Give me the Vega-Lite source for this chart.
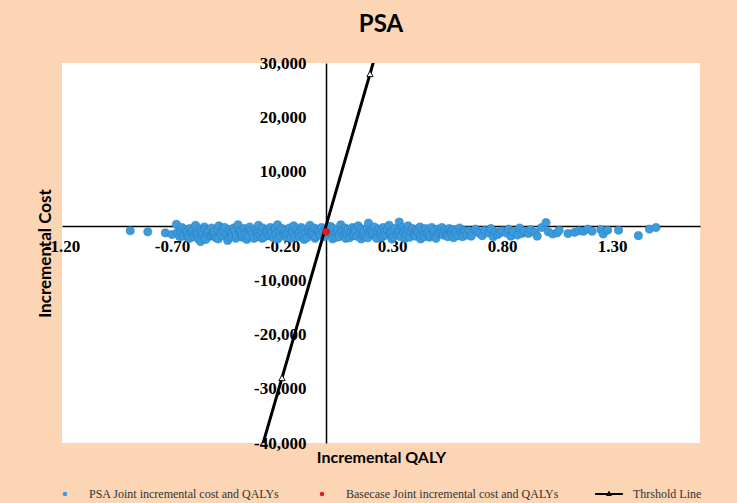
{
  "$schema": "https://vega.github.io/schema/vega-lite/v6.json",
  "autosize": {"type": "none"},
  "width": 638,
  "height": 380,
  "padding": {"left": 62, "top": 63, "right": 37, "bottom": 60},
  "background": "#FCD5B4",
  "config": {
    "view": {"fill": "white", "stroke": null},
    "axis": {"grid": false}
  },
  "title": {
    "text": "PSA",
    "anchor": "middle",
    "frame": "group",
    "font": "Lato",
    "fontSize": 24,
    "fontWeight": "bold",
    "color": "black",
    "baseline": "alphabetic",
    "offset": -2
  },
  "datasets": {
    "psa": [
      {"x":-0.89,"y":-900,"s":"PSA Joint incremental cost and QALYs"},
      {"x":-0.81,"y":-1100,"s":"PSA Joint incremental cost and QALYs"},
      {"x":-0.73,"y":-1300,"s":"PSA Joint incremental cost and QALYs"},
      {"x":-0.70,"y":-1600,"s":"PSA Joint incremental cost and QALYs"},
      {"x":-0.68,"y":300,"s":"PSA Joint incremental cost and QALYs"},
      {"x":-0.675,"y":-1200,"s":"PSA Joint incremental cost and QALYs"},
      {"x":-0.665,"y":-2000,"s":"PSA Joint incremental cost and QALYs"},
      {"x":-0.66,"y":-1100,"s":"PSA Joint incremental cost and QALYs"},
      {"x":-0.655,"y":-300,"s":"PSA Joint incremental cost and QALYs"},
      {"x":-0.648,"y":-1900,"s":"PSA Joint incremental cost and QALYs"},
      {"x":-0.64,"y":-700,"s":"PSA Joint incremental cost and QALYs"},
      {"x":-0.633,"y":-1400,"s":"PSA Joint incremental cost and QALYs"},
      {"x":-0.63,"y":-1000,"s":"PSA Joint incremental cost and QALYs"},
      {"x":-0.627,"y":-2100,"s":"PSA Joint incremental cost and QALYs"},
      {"x":-0.62,"y":-500,"s":"PSA Joint incremental cost and QALYs"},
      {"x":-0.62,"y":-2300,"s":"PSA Joint incremental cost and QALYs"},
      {"x":-0.612,"y":-1200,"s":"PSA Joint incremental cost and QALYs"},
      {"x":-0.606,"y":-900,"s":"PSA Joint incremental cost and QALYs"},
      {"x":-0.6,"y":-1700,"s":"PSA Joint incremental cost and QALYs"},
      {"x":-0.6,"y":-2000,"s":"PSA Joint incremental cost and QALYs"},
      {"x":-0.593,"y":100,"s":"PSA Joint incremental cost and QALYs"},
      {"x":-0.59,"y":-1500,"s":"PSA Joint incremental cost and QALYs"},
      {"x":-0.586,"y":-1300,"s":"PSA Joint incremental cost and QALYs"},
      {"x":-0.58,"y":-2400,"s":"PSA Joint incremental cost and QALYs"},
      {"x":-0.573,"y":-600,"s":"PSA Joint incremental cost and QALYs"},
      {"x":-0.57,"y":-2900,"s":"PSA Joint incremental cost and QALYs"},
      {"x":-0.566,"y":-1000,"s":"PSA Joint incremental cost and QALYs"},
      {"x":-0.56,"y":-1600,"s":"PSA Joint incremental cost and QALYs"},
      {"x":-0.553,"y":-200,"s":"PSA Joint incremental cost and QALYs"},
      {"x":-0.55,"y":-700,"s":"PSA Joint incremental cost and QALYs"},
      {"x":-0.55,"y":-2200,"s":"PSA Joint incremental cost and QALYs"},
      {"x":-0.547,"y":-2500,"s":"PSA Joint incremental cost and QALYs"},
      {"x":-0.54,"y":-1200,"s":"PSA Joint incremental cost and QALYs"},
      {"x":-0.533,"y":-800,"s":"PSA Joint incremental cost and QALYs"},
      {"x":-0.527,"y":-1900,"s":"PSA Joint incremental cost and QALYs"},
      {"x":-0.52,"y":-400,"s":"PSA Joint incremental cost and QALYs"},
      {"x":-0.52,"y":-1800,"s":"PSA Joint incremental cost and QALYs"},
      {"x":-0.513,"y":-1500,"s":"PSA Joint incremental cost and QALYs"},
      {"x":-0.51,"y":-1300,"s":"PSA Joint incremental cost and QALYs"},
      {"x":-0.507,"y":-1000,"s":"PSA Joint incremental cost and QALYs"},
      {"x":-0.5,"y":-2200,"s":"PSA Joint incremental cost and QALYs"},
      {"x":-0.493,"y":-600,"s":"PSA Joint incremental cost and QALYs"},
      {"x":-0.49,"y":-2400,"s":"PSA Joint incremental cost and QALYs"},
      {"x":-0.487,"y":0,"s":"PSA Joint incremental cost and QALYs"},
      {"x":-0.48,"y":-1300,"s":"PSA Joint incremental cost and QALYs"},
      {"x":-0.473,"y":-1800,"s":"PSA Joint incremental cost and QALYs"},
      {"x":-0.47,"y":-500,"s":"PSA Joint incremental cost and QALYs"},
      {"x":-0.467,"y":-900,"s":"PSA Joint incremental cost and QALYs"},
      {"x":-0.46,"y":-300,"s":"PSA Joint incremental cost and QALYs"},
      {"x":-0.453,"y":-1500,"s":"PSA Joint incremental cost and QALYs"},
      {"x":-0.447,"y":-2700,"s":"PSA Joint incremental cost and QALYs"},
      {"x":-0.44,"y":-700,"s":"PSA Joint incremental cost and QALYs"},
      {"x":-0.44,"y":-2100,"s":"PSA Joint incremental cost and QALYs"},
      {"x":-0.433,"y":-1200,"s":"PSA Joint incremental cost and QALYs"},
      {"x":-0.43,"y":-1600,"s":"PSA Joint incremental cost and QALYs"},
      {"x":-0.427,"y":-2000,"s":"PSA Joint incremental cost and QALYs"},
      {"x":-0.42,"y":-400,"s":"PSA Joint incremental cost and QALYs"},
      {"x":-0.413,"y":-1000,"s":"PSA Joint incremental cost and QALYs"},
      {"x":-0.41,"y":-2300,"s":"PSA Joint incremental cost and QALYs"},
      {"x":-0.407,"y":-1700,"s":"PSA Joint incremental cost and QALYs"},
      {"x":-0.4,"y":200,"s":"PSA Joint incremental cost and QALYs"},
      {"x":-0.393,"y":-1300,"s":"PSA Joint incremental cost and QALYs"},
      {"x":-0.39,"y":-1000,"s":"PSA Joint incremental cost and QALYs"},
      {"x":-0.387,"y":-800,"s":"PSA Joint incremental cost and QALYs"},
      {"x":-0.38,"y":-2100,"s":"PSA Joint incremental cost and QALYs"},
      {"x":-0.38,"y":-1700,"s":"PSA Joint incremental cost and QALYs"},
      {"x":-0.373,"y":-500,"s":"PSA Joint incremental cost and QALYs"},
      {"x":-0.367,"y":-1500,"s":"PSA Joint incremental cost and QALYs"},
      {"x":-0.36,"y":-1100,"s":"PSA Joint incremental cost and QALYs"},
      {"x":-0.36,"y":-2500,"s":"PSA Joint incremental cost and QALYs"},
      {"x":-0.353,"y":-1900,"s":"PSA Joint incremental cost and QALYs"},
      {"x":-0.35,"y":-600,"s":"PSA Joint incremental cost and QALYs"},
      {"x":-0.347,"y":-200,"s":"PSA Joint incremental cost and QALYs"},
      {"x":-0.34,"y":-900,"s":"PSA Joint incremental cost and QALYs"},
      {"x":-0.333,"y":-1400,"s":"PSA Joint incremental cost and QALYs"},
      {"x":-0.327,"y":-2300,"s":"PSA Joint incremental cost and QALYs"},
      {"x":-0.32,"y":-600,"s":"PSA Joint incremental cost and QALYs"},
      {"x":-0.313,"y":-1200,"s":"PSA Joint incremental cost and QALYs"},
      {"x":-0.31,"y":-1500,"s":"PSA Joint incremental cost and QALYs"},
      {"x":-0.31,"y":-2000,"s":"PSA Joint incremental cost and QALYs"},
      {"x":-0.307,"y":100,"s":"PSA Joint incremental cost and QALYs"},
      {"x":-0.3,"y":-1700,"s":"PSA Joint incremental cost and QALYs"},
      {"x":-0.293,"y":-1000,"s":"PSA Joint incremental cost and QALYs"},
      {"x":-0.29,"y":-2300,"s":"PSA Joint incremental cost and QALYs"},
      {"x":-0.287,"y":-400,"s":"PSA Joint incremental cost and QALYs"},
      {"x":-0.28,"y":-2000,"s":"PSA Joint incremental cost and QALYs"},
      {"x":-0.273,"y":-800,"s":"PSA Joint incremental cost and QALYs"},
      {"x":-0.27,"y":-1100,"s":"PSA Joint incremental cost and QALYs"},
      {"x":-0.267,"y":-1300,"s":"PSA Joint incremental cost and QALYs"},
      {"x":-0.26,"y":-1800,"s":"PSA Joint incremental cost and QALYs"},
      {"x":-0.253,"y":-300,"s":"PSA Joint incremental cost and QALYs"},
      {"x":-0.25,"y":-1800,"s":"PSA Joint incremental cost and QALYs"},
      {"x":-0.247,"y":-1100,"s":"PSA Joint incremental cost and QALYs"},
      {"x":-0.24,"y":-2200,"s":"PSA Joint incremental cost and QALYs"},
      {"x":-0.233,"y":-700,"s":"PSA Joint incremental cost and QALYs"},
      {"x":-0.23,"y":-500,"s":"PSA Joint incremental cost and QALYs"},
      {"x":-0.227,"y":-1500,"s":"PSA Joint incremental cost and QALYs"},
      {"x":-0.22,"y":200,"s":"PSA Joint incremental cost and QALYs"},
      {"x":-0.22,"y":-2400,"s":"PSA Joint incremental cost and QALYs"},
      {"x":-0.213,"y":-1000,"s":"PSA Joint incremental cost and QALYs"},
      {"x":-0.207,"y":-1900,"s":"PSA Joint incremental cost and QALYs"},
      {"x":-0.2,"y":-500,"s":"PSA Joint incremental cost and QALYs"},
      {"x":-0.193,"y":-1300,"s":"PSA Joint incremental cost and QALYs"},
      {"x":-0.19,"y":-1600,"s":"PSA Joint incremental cost and QALYs"},
      {"x":-0.187,"y":-800,"s":"PSA Joint incremental cost and QALYs"},
      {"x":-0.18,"y":-2100,"s":"PSA Joint incremental cost and QALYs"},
      {"x":-0.18,"y":-1500,"s":"PSA Joint incremental cost and QALYs"},
      {"x":-0.173,"y":-1200,"s":"PSA Joint incremental cost and QALYs"},
      {"x":-0.167,"y":-400,"s":"PSA Joint incremental cost and QALYs"},
      {"x":-0.16,"y":-1600,"s":"PSA Joint incremental cost and QALYs"},
      {"x":-0.16,"y":-2300,"s":"PSA Joint incremental cost and QALYs"},
      {"x":-0.153,"y":-900,"s":"PSA Joint incremental cost and QALYs"},
      {"x":-0.15,"y":-1100,"s":"PSA Joint incremental cost and QALYs"},
      {"x":-0.147,"y":0,"s":"PSA Joint incremental cost and QALYs"},
      {"x":-0.14,"y":-2000,"s":"PSA Joint incremental cost and QALYs"},
      {"x":-0.133,"y":-700,"s":"PSA Joint incremental cost and QALYs"},
      {"x":-0.127,"y":-1400,"s":"PSA Joint incremental cost and QALYs"},
      {"x":-0.12,"y":-1100,"s":"PSA Joint incremental cost and QALYs"},
      {"x":-0.12,"y":-2000,"s":"PSA Joint incremental cost and QALYs"},
      {"x":-0.113,"y":-300,"s":"PSA Joint incremental cost and QALYs"},
      {"x":-0.11,"y":-800,"s":"PSA Joint incremental cost and QALYs"},
      {"x":-0.107,"y":-1800,"s":"PSA Joint incremental cost and QALYs"},
      {"x":-0.1,"y":-600,"s":"PSA Joint incremental cost and QALYs"},
      {"x":-0.1,"y":-2500,"s":"PSA Joint incremental cost and QALYs"},
      {"x":-0.093,"y":-1300,"s":"PSA Joint incremental cost and QALYs"},
      {"x":-0.087,"y":-2200,"s":"PSA Joint incremental cost and QALYs"},
      {"x":-0.08,"y":-900,"s":"PSA Joint incremental cost and QALYs"},
      {"x":-0.073,"y":100,"s":"PSA Joint incremental cost and QALYs"},
      {"x":-0.07,"y":-1200,"s":"PSA Joint incremental cost and QALYs"},
      {"x":-0.067,"y":-1500,"s":"PSA Joint incremental cost and QALYs"},
      {"x":-0.06,"y":-1000,"s":"PSA Joint incremental cost and QALYs"},
      {"x":-0.06,"y":-1700,"s":"PSA Joint incremental cost and QALYs"},
      {"x":-0.053,"y":-400,"s":"PSA Joint incremental cost and QALYs"},
      {"x":-0.05,"y":-2300,"s":"PSA Joint incremental cost and QALYs"},
      {"x":-0.047,"y":-1900,"s":"PSA Joint incremental cost and QALYs"},
      {"x":-0.04,"y":-700,"s":"PSA Joint incremental cost and QALYs"},
      {"x":-0.033,"y":-1200,"s":"PSA Joint incremental cost and QALYs"},
      {"x":-0.03,"y":-900,"s":"PSA Joint incremental cost and QALYs"},
      {"x":-0.027,"y":-1700,"s":"PSA Joint incremental cost and QALYs"},
      {"x":-0.02,"y":-300,"s":"PSA Joint incremental cost and QALYs"},
      {"x":-0.013,"y":-1100,"s":"PSA Joint incremental cost and QALYs"},
      {"x":-0.007,"y":-2000,"s":"PSA Joint incremental cost and QALYs"},
      {"x":0.0,"y":-600,"s":"PSA Joint incremental cost and QALYs"},
      {"x":0.007,"y":-1400,"s":"PSA Joint incremental cost and QALYs"},
      {"x":0.013,"y":-900,"s":"PSA Joint incremental cost and QALYs"},
      {"x":0.02,"y":-100,"s":"PSA Joint incremental cost and QALYs"},
      {"x":0.027,"y":-1700,"s":"PSA Joint incremental cost and QALYs"},
      {"x":0.03,"y":-2400,"s":"PSA Joint incremental cost and QALYs"},
      {"x":0.033,"y":-500,"s":"PSA Joint incremental cost and QALYs"},
      {"x":0.04,"y":-1200,"s":"PSA Joint incremental cost and QALYs"},
      {"x":0.047,"y":-2100,"s":"PSA Joint incremental cost and QALYs"},
      {"x":0.05,"y":-1100,"s":"PSA Joint incremental cost and QALYs"},
      {"x":0.053,"y":-800,"s":"PSA Joint incremental cost and QALYs"},
      {"x":0.06,"y":-1500,"s":"PSA Joint incremental cost and QALYs"},
      {"x":0.06,"y":-2000,"s":"PSA Joint incremental cost and QALYs"},
      {"x":0.067,"y":200,"s":"PSA Joint incremental cost and QALYs"},
      {"x":0.073,"y":-1000,"s":"PSA Joint incremental cost and QALYs"},
      {"x":0.08,"y":-1800,"s":"PSA Joint incremental cost and QALYs"},
      {"x":0.087,"y":-400,"s":"PSA Joint incremental cost and QALYs"},
      {"x":0.09,"y":-1600,"s":"PSA Joint incremental cost and QALYs"},
      {"x":0.09,"y":-2300,"s":"PSA Joint incremental cost and QALYs"},
      {"x":0.093,"y":-1300,"s":"PSA Joint incremental cost and QALYs"},
      {"x":0.1,"y":-700,"s":"PSA Joint incremental cost and QALYs"},
      {"x":0.107,"y":-2200,"s":"PSA Joint incremental cost and QALYs"},
      {"x":0.113,"y":-1100,"s":"PSA Joint incremental cost and QALYs"},
      {"x":0.12,"y":-300,"s":"PSA Joint incremental cost and QALYs"},
      {"x":0.12,"y":-1800,"s":"PSA Joint incremental cost and QALYs"},
      {"x":0.127,"y":-1600,"s":"PSA Joint incremental cost and QALYs"},
      {"x":0.13,"y":-500,"s":"PSA Joint incremental cost and QALYs"},
      {"x":0.133,"y":-900,"s":"PSA Joint incremental cost and QALYs"},
      {"x":0.14,"y":-1900,"s":"PSA Joint incremental cost and QALYs"},
      {"x":0.147,"y":0,"s":"PSA Joint incremental cost and QALYs"},
      {"x":0.153,"y":-1300,"s":"PSA Joint incremental cost and QALYs"},
      {"x":0.16,"y":-600,"s":"PSA Joint incremental cost and QALYs"},
      {"x":0.16,"y":-2400,"s":"PSA Joint incremental cost and QALYs"},
      {"x":0.167,"y":-1700,"s":"PSA Joint incremental cost and QALYs"},
      {"x":0.17,"y":-1300,"s":"PSA Joint incremental cost and QALYs"},
      {"x":0.173,"y":-1000,"s":"PSA Joint incremental cost and QALYs"},
      {"x":0.18,"y":-2000,"s":"PSA Joint incremental cost and QALYs"},
      {"x":0.187,"y":-400,"s":"PSA Joint incremental cost and QALYs"},
      {"x":0.19,"y":-2200,"s":"PSA Joint incremental cost and QALYs"},
      {"x":0.193,"y":500,"s":"PSA Joint incremental cost and QALYs"},
      {"x":0.2,"y":-1200,"s":"PSA Joint incremental cost and QALYs"},
      {"x":0.207,"y":-800,"s":"PSA Joint incremental cost and QALYs"},
      {"x":0.21,"y":-1100,"s":"PSA Joint incremental cost and QALYs"},
      {"x":0.213,"y":-1500,"s":"PSA Joint incremental cost and QALYs"},
      {"x":0.22,"y":-200,"s":"PSA Joint incremental cost and QALYs"},
      {"x":0.227,"y":-1900,"s":"PSA Joint incremental cost and QALYs"},
      {"x":0.23,"y":-2300,"s":"PSA Joint incremental cost and QALYs"},
      {"x":0.233,"y":-1000,"s":"PSA Joint incremental cost and QALYs"},
      {"x":0.24,"y":-600,"s":"PSA Joint incremental cost and QALYs"},
      {"x":0.247,"y":-1400,"s":"PSA Joint incremental cost and QALYs"},
      {"x":0.25,"y":-900,"s":"PSA Joint incremental cost and QALYs"},
      {"x":0.253,"y":-2100,"s":"PSA Joint incremental cost and QALYs"},
      {"x":0.26,"y":-300,"s":"PSA Joint incremental cost and QALYs"},
      {"x":0.26,"y":-1800,"s":"PSA Joint incremental cost and QALYs"},
      {"x":0.267,"y":-1100,"s":"PSA Joint incremental cost and QALYs"},
      {"x":0.273,"y":-1700,"s":"PSA Joint incremental cost and QALYs"},
      {"x":0.28,"y":-700,"s":"PSA Joint incremental cost and QALYs"},
      {"x":0.287,"y":100,"s":"PSA Joint incremental cost and QALYs"},
      {"x":0.29,"y":-1500,"s":"PSA Joint incremental cost and QALYs"},
      {"x":0.293,"y":-1300,"s":"PSA Joint incremental cost and QALYs"},
      {"x":0.3,"y":-900,"s":"PSA Joint incremental cost and QALYs"},
      {"x":0.3,"y":-2400,"s":"PSA Joint incremental cost and QALYs"},
      {"x":0.307,"y":-2000,"s":"PSA Joint incremental cost and QALYs"},
      {"x":0.313,"y":-500,"s":"PSA Joint incremental cost and QALYs"},
      {"x":0.32,"y":-1500,"s":"PSA Joint incremental cost and QALYs"},
      {"x":0.327,"y":-1100,"s":"PSA Joint incremental cost and QALYs"},
      {"x":0.33,"y":-1300,"s":"PSA Joint incremental cost and QALYs"},
      {"x":0.333,"y":700,"s":"PSA Joint incremental cost and QALYs"},
      {"x":0.34,"y":-1800,"s":"PSA Joint incremental cost and QALYs"},
      {"x":0.34,"y":-2000,"s":"PSA Joint incremental cost and QALYs"},
      {"x":0.347,"y":-300,"s":"PSA Joint incremental cost and QALYs"},
      {"x":0.353,"y":-1200,"s":"PSA Joint incremental cost and QALYs"},
      {"x":0.36,"y":-800,"s":"PSA Joint incremental cost and QALYs"},
      {"x":0.36,"y":-2300,"s":"PSA Joint incremental cost and QALYs"},
      {"x":0.367,"y":-1600,"s":"PSA Joint incremental cost and QALYs"},
      {"x":0.37,"y":-600,"s":"PSA Joint incremental cost and QALYs"},
      {"x":0.373,"y":0,"s":"PSA Joint incremental cost and QALYs"},
      {"x":0.38,"y":-2100,"s":"PSA Joint incremental cost and QALYs"},
      {"x":0.387,"y":-1000,"s":"PSA Joint incremental cost and QALYs"},
      {"x":0.393,"y":-500,"s":"PSA Joint incremental cost and QALYs"},
      {"x":0.4,"y":-1400,"s":"PSA Joint incremental cost and QALYs"},
      {"x":0.4,"y":-1700,"s":"PSA Joint incremental cost and QALYs"},
      {"x":0.407,"y":-1900,"s":"PSA Joint incremental cost and QALYs"},
      {"x":0.41,"y":-1000,"s":"PSA Joint incremental cost and QALYs"},
      {"x":0.413,"y":-700,"s":"PSA Joint incremental cost and QALYs"},
      {"x":0.42,"y":-1200,"s":"PSA Joint incremental cost and QALYs"},
      {"x":0.427,"y":-200,"s":"PSA Joint incremental cost and QALYs"},
      {"x":0.43,"y":-2400,"s":"PSA Joint incremental cost and QALYs"},
      {"x":0.433,"y":-1600,"s":"PSA Joint incremental cost and QALYs"},
      {"x":0.44,"y":-900,"s":"PSA Joint incremental cost and QALYs"},
      {"x":0.447,"y":-2000,"s":"PSA Joint incremental cost and QALYs"},
      {"x":0.45,"y":-1200,"s":"PSA Joint incremental cost and QALYs"},
      {"x":0.453,"y":-500,"s":"PSA Joint incremental cost and QALYs"},
      {"x":0.46,"y":-1300,"s":"PSA Joint incremental cost and QALYs"},
      {"x":0.467,"y":-1000,"s":"PSA Joint incremental cost and QALYs"},
      {"x":0.47,"y":-2100,"s":"PSA Joint incremental cost and QALYs"},
      {"x":0.473,"y":-1700,"s":"PSA Joint incremental cost and QALYs"},
      {"x":0.48,"y":-300,"s":"PSA Joint incremental cost and QALYs"},
      {"x":0.487,"y":-1200,"s":"PSA Joint incremental cost and QALYs"},
      {"x":0.49,"y":-1500,"s":"PSA Joint incremental cost and QALYs"},
      {"x":0.493,"y":-800,"s":"PSA Joint incremental cost and QALYs"},
      {"x":0.5,"y":-1900,"s":"PSA Joint incremental cost and QALYs"},
      {"x":0.5,"y":-2300,"s":"PSA Joint incremental cost and QALYs"},
      {"x":0.507,"y":-600,"s":"PSA Joint incremental cost and QALYs"},
      {"x":0.513,"y":-1400,"s":"PSA Joint incremental cost and QALYs"},
      {"x":0.52,"y":-1000,"s":"PSA Joint incremental cost and QALYs"},
      {"x":0.527,"y":-300,"s":"PSA Joint incremental cost and QALYs"},
      {"x":0.53,"y":-1200,"s":"PSA Joint incremental cost and QALYs"},
      {"x":0.533,"y":-1700,"s":"PSA Joint incremental cost and QALYs"},
      {"x":0.54,"y":-800,"s":"PSA Joint incremental cost and QALYs"},
      {"x":0.547,"y":-1300,"s":"PSA Joint incremental cost and QALYs"},
      {"x":0.55,"y":-1700,"s":"PSA Joint incremental cost and QALYs"},
      {"x":0.553,"y":-2000,"s":"PSA Joint incremental cost and QALYs"},
      {"x":0.56,"y":-500,"s":"PSA Joint incremental cost and QALYs"},
      {"x":0.567,"y":-1100,"s":"PSA Joint incremental cost and QALYs"},
      {"x":0.57,"y":-900,"s":"PSA Joint incremental cost and QALYs"},
      {"x":0.573,"y":-1600,"s":"PSA Joint incremental cost and QALYs"},
      {"x":0.58,"y":-700,"s":"PSA Joint incremental cost and QALYs"},
      {"x":0.58,"y":-2200,"s":"PSA Joint incremental cost and QALYs"},
      {"x":0.587,"y":-1300,"s":"PSA Joint incremental cost and QALYs"},
      {"x":0.593,"y":-900,"s":"PSA Joint incremental cost and QALYs"},
      {"x":0.6,"y":-1800,"s":"PSA Joint incremental cost and QALYs"},
      {"x":0.607,"y":-400,"s":"PSA Joint incremental cost and QALYs"},
      {"x":0.613,"y":-1200,"s":"PSA Joint incremental cost and QALYs"},
      {"x":0.62,"y":-1500,"s":"PSA Joint incremental cost and QALYs"},
      {"x":0.62,"y":-2000,"s":"PSA Joint incremental cost and QALYs"},
      {"x":0.627,"y":-800,"s":"PSA Joint incremental cost and QALYs"},
      {"x":0.633,"y":-1100,"s":"PSA Joint incremental cost and QALYs"},
      {"x":0.64,"y":-1700,"s":"PSA Joint incremental cost and QALYs"},
      {"x":0.65,"y":-900,"s":"PSA Joint incremental cost and QALYs"},
      {"x":0.66,"y":-1400,"s":"PSA Joint incremental cost and QALYs"},
      {"x":0.66,"y":-1900,"s":"PSA Joint incremental cost and QALYs"},
      {"x":0.68,"y":-600,"s":"PSA Joint incremental cost and QALYs"},
      {"x":0.69,"y":-1200,"s":"PSA Joint incremental cost and QALYs"},
      {"x":0.7,"y":-1400,"s":"PSA Joint incremental cost and QALYs"},
      {"x":0.71,"y":-1800,"s":"PSA Joint incremental cost and QALYs"},
      {"x":0.72,"y":-800,"s":"PSA Joint incremental cost and QALYs"},
      {"x":0.74,"y":-1300,"s":"PSA Joint incremental cost and QALYs"},
      {"x":0.75,"y":-500,"s":"PSA Joint incremental cost and QALYs"},
      {"x":0.76,"y":-2000,"s":"PSA Joint incremental cost and QALYs"},
      {"x":0.77,"y":-1100,"s":"PSA Joint incremental cost and QALYs"},
      {"x":0.78,"y":-1600,"s":"PSA Joint incremental cost and QALYs"},
      {"x":0.79,"y":-1300,"s":"PSA Joint incremental cost and QALYs"},
      {"x":0.80,"y":-900,"s":"PSA Joint incremental cost and QALYs"},
      {"x":0.82,"y":-1300,"s":"PSA Joint incremental cost and QALYs"},
      {"x":0.83,"y":-600,"s":"PSA Joint incremental cost and QALYs"},
      {"x":0.84,"y":-1900,"s":"PSA Joint incremental cost and QALYs"},
      {"x":0.85,"y":-1100,"s":"PSA Joint incremental cost and QALYs"},
      {"x":0.87,"y":-1700,"s":"PSA Joint incremental cost and QALYs"},
      {"x":0.88,"y":-400,"s":"PSA Joint incremental cost and QALYs"},
      {"x":0.89,"y":-1400,"s":"PSA Joint incremental cost and QALYs"},
      {"x":0.90,"y":-1000,"s":"PSA Joint incremental cost and QALYs"},
      {"x":0.92,"y":-1400,"s":"PSA Joint incremental cost and QALYs"},
      {"x":0.93,"y":-700,"s":"PSA Joint incremental cost and QALYs"},
      {"x":0.95,"y":-1200,"s":"PSA Joint incremental cost and QALYs"},
      {"x":0.96,"y":-1900,"s":"PSA Joint incremental cost and QALYs"},
      {"x":0.98,"y":-300,"s":"PSA Joint incremental cost and QALYs"},
      {"x":1.00,"y":600,"s":"PSA Joint incremental cost and QALYs"},
      {"x":1.01,"y":-1100,"s":"PSA Joint incremental cost and QALYs"},
      {"x":1.03,"y":-1500,"s":"PSA Joint incremental cost and QALYs"},
      {"x":1.05,"y":-1300,"s":"PSA Joint incremental cost and QALYs"},
      {"x":1.06,"y":-800,"s":"PSA Joint incremental cost and QALYs"},
      {"x":1.10,"y":-1400,"s":"PSA Joint incremental cost and QALYs"},
      {"x":1.13,"y":-1200,"s":"PSA Joint incremental cost and QALYs"},
      {"x":1.15,"y":-900,"s":"PSA Joint incremental cost and QALYs"},
      {"x":1.17,"y":-1000,"s":"PSA Joint incremental cost and QALYs"},
      {"x":1.19,"y":-600,"s":"PSA Joint incremental cost and QALYs"},
      {"x":1.21,"y":-1000,"s":"PSA Joint incremental cost and QALYs"},
      {"x":1.25,"y":-700,"s":"PSA Joint incremental cost and QALYs"},
      {"x":1.26,"y":-1500,"s":"PSA Joint incremental cost and QALYs"},
      {"x":1.28,"y":-800,"s":"PSA Joint incremental cost and QALYs"},
      {"x":1.33,"y":-800,"s":"PSA Joint incremental cost and QALYs"},
      {"x":1.42,"y":-1800,"s":"PSA Joint incremental cost and QALYs"},
      {"x":1.47,"y":-600,"s":"PSA Joint incremental cost and QALYs"},
      {"x":1.50,"y":-300,"s":"PSA Joint incremental cost and QALYs"}
    ],
    "base": [
      {"x":0.0,"y":-1100,"s":"Basecase Joint incremental cost and QALYs"}
    ],
    "thr": [
      {"x":-0.3,"y":-42000},
      {"x":-0.2,"y":-28000},
      {"x":0.0,"y":0},
      {"x":0.2,"y":28000},
      {"x":0.3,"y":42000}
    ],
    "tri": [
      {"x":-0.2,"y":-28000},
      {"x":0.2,"y":28000}
    ]
  },
  "encoding": {
    "x": {
      "field": "x",
      "type": "quantitative",
      "scale": {"domain": [-1.2, 1.7], "nice": false, "zero": false},
      "axis": {
        "orient": "bottom",
        "offset": -217,
        "values": [-1.2, -0.7, -0.2, 0.3, 0.8, 1.3],
        "format": ".2f",
        "labelExpr": "replace(datum.label, '\u2212', '-')",
        "labelFont": "Liberation Serif",
        "labelFontWeight": "bold",
        "labelFontSize": 17,
        "labelColor": "black",
        "labelPadding": 12,
        "labelFlush": false,
        "labelOverlap": false,
        "labelBound": false,
        "ticks": false,
        "domainColor": "black",
        "domainWidth": 1.5,
        "title": "Incremental QALY",
        "titleFont": "Lato",
        "titleFontSize": 16,
        "titleFontWeight": "bold",
        "titleColor": "black",
        "titleX": 319,
        "titleY": 231,
        "titleBaseline": "middle",
        "titleAlign": "center"
      }
    },
    "y": {
      "field": "y",
      "type": "quantitative",
      "scale": {"domain": [-40000, 30000], "nice": false, "zero": false},
      "axis": {
        "orient": "left",
        "offset": -264,
        "values": [-40000, -30000, -20000, -10000, 10000, 20000, 30000],
        "format": ",.0f",
        "labelExpr": "replace(datum.label, '\u2212', '-')",
        "labelFont": "Liberation Serif",
        "labelFontWeight": "bold",
        "labelFontSize": 17,
        "labelColor": "black",
        "labelPadding": 20,
        "labelFlush": false,
        "labelOverlap": false,
        "labelBound": false,
        "ticks": false,
        "domainColor": "black",
        "domainWidth": 1.5,
        "title": "Incremental Cost",
        "titleFont": "Lato",
        "titleFontSize": 17,
        "titleFontWeight": "bold",
        "titleColor": "black",
        "titleAngle": -90,
        "titleX": -281,
        "titleY": 190,
        "titleBaseline": "middle",
        "titleAlign": "center"
      }
    }
  },
  "layer": [
    {
      "data": {"name": "psa"},
      "mark": {"type": "point", "filled": true, "size": 66, "opacity": 1, "stroke": "#2C7DC0", "strokeWidth": 0.6},
      "encoding": {
        "color": {
          "field": "s",
          "type": "nominal",
          "scale": {
            "domain": ["PSA Joint incremental cost and QALYs", "Basecase Joint incremental cost and QALYs", "Thrshold Line"],
            "range": ["#3B9BDD", "#E31A1C", "#000000"]
          },
          "legend": {
            "orient": "none",
            "legendX": -3,
            "legendY": 425,
            "direction": "horizontal",
            "title": null,
            "labelFont": "Liberation Serif",
            "labelFontSize": 12,
            "labelColor": "#333333",
            "labelOffset": 18,
            "labelLimit": 400,
            "columnPadding": 36,
            "symbolSize": 20,
            "symbolStrokeWidth": 0,
            "symbolOpacity": 1
          }
        },
        "shape": {
          "field": "s",
          "type": "nominal",
          "scale": {
            "domain": ["PSA Joint incremental cost and QALYs", "Basecase Joint incremental cost and QALYs", "Thrshold Line"],
            "range": ["circle", "circle", "M-6.2,-0.4H6.2V0.4H-6.2Z M0,-1.6L1.3,0.9H-1.3Z"]
          },
          "legend": {
            "orient": "none",
            "legendX": -3,
            "legendY": 425,
            "direction": "horizontal",
            "title": null,
            "labelFont": "Liberation Serif",
            "labelFontSize": 12,
            "labelColor": "#333333",
            "labelOffset": 18,
            "labelLimit": 400,
            "columnPadding": 36,
            "symbolSize": 20,
            "symbolStrokeWidth": 0,
            "symbolOpacity": 1
          }
        }
      }
    },
    {
      "data": {"name": "thr"},
      "mark": {"type": "line", "color": "black", "strokeWidth": 3, "clip": true},
      "encoding": {}
    },
    {
      "data": {"name": "tri"},
      "mark": {"type": "point", "shape": "triangle-up", "size": 40, "filled": true, "fill": "#F4F8E8", "stroke": "black", "strokeWidth": 0.9, "opacity": 1},
      "encoding": {}
    },
    {
      "data": {"name": "base"},
      "mark": {"type": "point", "filled": true, "size": 50, "opacity": 1, "stroke": "#B01010", "strokeWidth": 0.5},
      "encoding": {
        "color": {"field": "s", "type": "nominal"},
        "shape": {"field": "s", "type": "nominal"}
      }
    }
  ]
}
